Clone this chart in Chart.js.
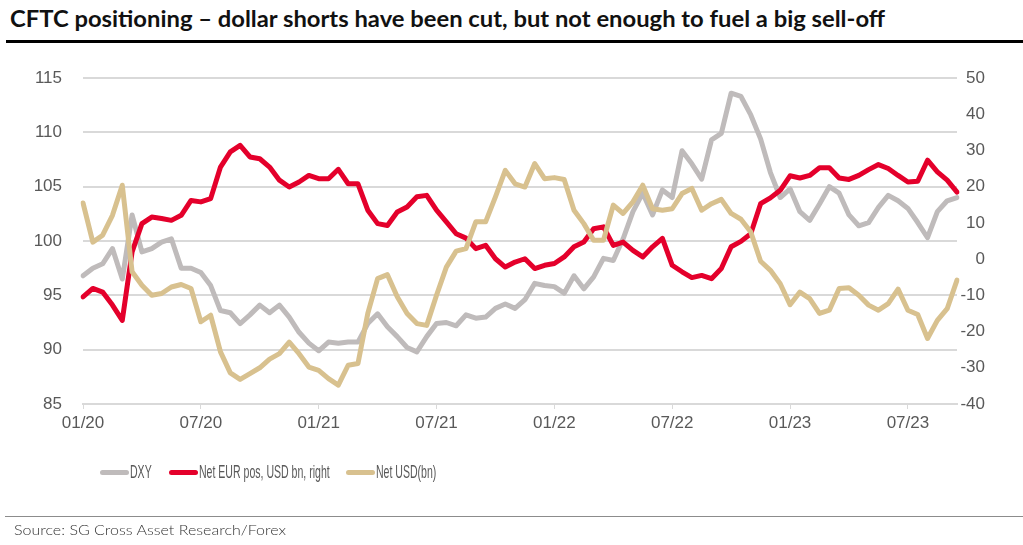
<!DOCTYPE html>
<html>
<head>
<meta charset="utf-8">
<script src="https://cdn.jsdelivr.net/npm/chart.js@4.4.1/dist/chart.umd.min.js"></script>
<style>
    html, body { margin: 0; padding: 0; background: #fff; }
    body { width: 1023px; height: 545px; position: relative; overflow: hidden; }
    #titulo {
        position: absolute; left: 10px; top: 5px;
        font-family: Lato, "Open Sans", sans-serif; font-weight: 700; font-size: 22px;
        color: #111; white-space: nowrap; transform-origin: 0 0;
    }
    #barra { position: absolute; left: 6px; right: 0; top: 40px; height: 3px; background: #000; }
    #grafico { position: absolute; left: 0; top: 0; }
    #legenda {
        position: absolute; left: 100px; top: 461px; height: 22px;
        display: flex; align-items: center;
        font-family: "Liberation Sans", Arial, sans-serif;
        font-size: 18.5px; color: #595959; white-space: nowrap;
    }
    .item { display: flex; align-items: center; margin-right: 17px; }
    .amostra { width: 29px; height: 5px; border-radius: 3px; margin-right: 1px; flex: none; }
    .caixaTexto { overflow: visible; display: inline-block; }
    .texto { display: inline-block; transform-origin: 0 50%; }
    #linhaFonte { position: absolute; left: 5px; right: 0; top: 516px; height: 1px; background: #8c8c8c; }
    #fonte {
        position: absolute; left: 14px; top: 521px;
        font-family: Lato, "Open Sans", sans-serif; font-weight: 300; font-size: 14px;
        color: #333; white-space: nowrap; transform-origin: 0 0;
    }
</style>
</head>
<body>
<div id="titulo">CFTC positioning – dollar shorts have been cut, but not enough to fuel a big sell-off</div>
<div id="barra"></div>
<canvas id="grafico" width="1023" height="545"></canvas>
<div id="legenda"></div>
<div id="linhaFonte"></div>
<div id="fonte">Source: SG Cross Asset Research/Forex</div>
<script>
// leituras quinzenais (dia 1 e dia 16 de cada mes), jan/2020 a set/2023
const dxy = [
    96.8, 97.5, 97.9, 99.3, 96.5, 102.4, 99.0, 99.3, 99.9, 100.2,
    97.5, 97.5, 97.1, 95.9, 93.6, 93.4, 92.4, 93.2, 94.1, 93.4,
    94.1, 93.0, 91.6, 90.6, 89.9, 90.7, 90.6, 90.7, 90.7, 92.4,
    93.3, 92.1, 91.2, 90.2, 89.8, 91.2, 92.4, 92.5, 92.2, 93.2,
    92.9, 93.0, 93.8, 94.2, 93.8, 94.6, 96.1, 95.9, 95.8, 95.2,
    96.8, 95.6, 96.7, 98.4, 98.2, 100.2, 102.7, 104.4, 102.4, 104.7,
    104.0, 108.3, 107.1, 105.7, 109.3, 109.9, 113.6, 113.3, 111.6, 109.4,
    106.3, 104.0, 104.8, 102.7, 101.9, 103.4, 105.0, 104.4, 102.4, 101.4,
    101.7, 103.1, 104.2, 103.7, 103.0, 101.7, 100.3, 102.7, 103.7, 104.0
];

const netEur = [
    -10.4, -8.1, -9.1, -12.7, -16.9, 2.0, 9.8, 11.6, 11.2, 10.7,
    12.1, 16.2, 15.8, 16.7, 25.4, 29.6, 31.4, 28.2, 27.7, 25.4,
    21.8, 19.9, 21.3, 23.1, 22.2, 22.2, 24.8, 20.8, 20.8, 13.5,
    9.8, 9.3, 13.0, 14.4, 17.2, 17.6, 13.5, 10.3, 7.0, 5.8,
    2.9, 3.8, 0.1, -2.2, -0.8, 0.1, -2.6, -1.7, -1.2, 0.6,
    3.4, 4.7, 8.4, 8.9, 3.8, 4.7, 2.4, 0.6, 3.4, 5.7,
    -1.7, -3.5, -5.1, -4.5, -5.4, -2.6, 3.4, 4.9, 7.0, 15.3,
    16.9, 19.0, 23.0, 22.4, 23.1, 25.2, 25.2, 22.4, 22.0, 23.1,
    24.7, 26.1, 25.0, 23.1, 21.3, 21.5, 27.3, 24.1, 21.8, 18.5
];

const netUsd = [
    15.5, 4.7, 6.6, 12.1, 20.4, -3.5, -7.2, -10.0, -9.5, -7.7,
    -7.0, -8.1, -17.3, -15.5, -25.6, -31.4, -33.2, -31.6, -30.0, -27.6,
    -26.1, -22.9, -26.1, -29.8, -30.7, -33.0, -34.8, -29.3, -28.8, -15.0,
    -5.4, -4.3, -10.4, -15.0, -17.8, -18.3, -10.0, -2.2, 2.2, 2.9,
    10.3, 10.3, 17.2, 24.5, 20.8, 19.9, 26.4, 22.2, 22.5, 22.0,
    13.5, 9.8, 5.2, 5.2, 14.9, 12.6, 15.8, 20.4, 13.9, 13.5,
    13.9, 18.1, 19.5, 13.5, 15.3, 16.5, 12.6, 11.0, 7.5, -0.6,
    -3.1, -6.8, -12.6, -9.1, -10.9, -15.0, -14.1, -8.1, -7.9, -10.0,
    -12.7, -14.1, -12.3, -8.3, -14.1, -15.3, -21.9, -16.9, -13.7, -5.8
];

const rotulosX = ["01/20", "07/20", "01/21", "07/21", "01/22", "07/22", "01/23", "07/23"];
const ticksEsquerda = [85, 115, 5];
const ticksDireita = [-40, 50, 10];

const datas = [];
for (let ano = 20; ano <= 23; ano++) {
    for (let mes = 1; mes <= 12; mes++) {
        const mm = String(mes).padStart(2, "0");
        datas.push("01/" + mm + "/" + ano);
        datas.push("16/" + mm + "/" + ano);
    }
}
datas.length = dxy.length;

const corTexto = "#595959";
const corGrade = "#d9d9d9";
const fonteEixo = { family: "'Liberation Sans', Arial, sans-serif", size: 17 };

const series = [
    { label: "DXY", data: dxy, yAxisID: "y", borderColor: "#bfbbbb", order: 3 },
    { label: "Net EUR pos, USD bn, right", data: netEur, yAxisID: "y1", borderColor: "#e4002b", order: 2 },
    { label: "Net USD(bn)", data: netUsd, yAxisID: "y1", borderColor: "#d8c18f", order: 1 }
];

const grafico = new Chart(document.getElementById("grafico"), {
    type: "line",
    data: {
        labels: datas,
        datasets: series.map(function (s) {
            return Object.assign({
                borderWidth: 5,
                pointRadius: 0,
                tension: 0,
                fill: false,
                borderJoinStyle: "round",
                borderCapStyle: "round"
            }, s);
        })
    },
    options: {
        responsive: false,
        animation: false,
        devicePixelRatio: 1,
        layout: { padding: { top: 78, left: 0, right: 38, bottom: 91 } },
        plugins: {
            legend: { display: false },
            tooltip: { enabled: false }
        },
        scales: {
            x: {
                type: "category",
                offset: false,
                afterFit: function (escala) { escala.height = 50; },
                grid: {
                    drawOnChartArea: false,
                    drawTicks: true,
                    tickLength: 5,
                    color: corGrade,
                    lineWidth: 1
                },
                border: { display: true, color: corGrade, width: 2 },
                ticks: {
                    autoSkip: false,
                    maxRotation: 0,
                    padding: 4,
                    color: corTexto,
                    font: fonteEixo,
                    callback: function (valor, indice) {
                        const d = datas[indice];
                        const mesAno = d.slice(3);
                        return d.startsWith("01/") && rotulosX.includes(mesAno) ? mesAno : null;
                    }
                }
            },
            y: {
                position: "left",
                min: ticksEsquerda[0],
                max: ticksEsquerda[1],
                afterFit: function (escala) { escala.width = 83; },
                grid: { color: corGrade, lineWidth: 2, drawTicks: false },
                border: { display: false },
                ticks: { stepSize: ticksEsquerda[2], padding: 21, color: corTexto, font: fonteEixo }
            },
            y1: {
                position: "right",
                min: ticksDireita[0],
                max: ticksDireita[1],
                afterFit: function (escala) { escala.width = 28; },
                grid: { drawOnChartArea: false, drawTicks: false, tickLength: 0 },
                border: { display: false },
                ticks: {
                    stepSize: ticksDireita[2],
                    padding: 0,
                    crossAlign: "far",
                    color: corTexto,
                    font: fonteEixo
                }
            }
        }
    }
});

// legenda em html, na ordem das series (texto estreito como no original)
const legenda = document.getElementById("legenda");
const fatorEstreito = 0.57;
grafico.data.datasets.forEach(function (ds) {
    const item = document.createElement("div");
    item.className = "item";
    const amostra = document.createElement("span");
    amostra.className = "amostra";
    amostra.style.background = ds.borderColor;
    const caixa = document.createElement("span");
    caixa.className = "caixaTexto";
    const texto = document.createElement("span");
    texto.className = "texto";
    texto.textContent = ds.label;
    caixa.appendChild(texto);
    item.appendChild(amostra);
    item.appendChild(caixa);
    legenda.appendChild(item);
    const w = texto.getBoundingClientRect().width;
    caixa.style.width = (w * fatorEstreito) + "px";
    texto.style.transform = "scaleX(" + fatorEstreito + ")";
});

function ajustarLargura(id, largura) {
    const el = document.getElementById(id);
    const atual = el.getBoundingClientRect().width;
    if (atual > 0) el.style.transform = "scaleX(" + (largura / atual) + ")";
}
ajustarLargura("titulo", 875);
ajustarLargura("fonte", 272);
</script>
</body>
</html>
